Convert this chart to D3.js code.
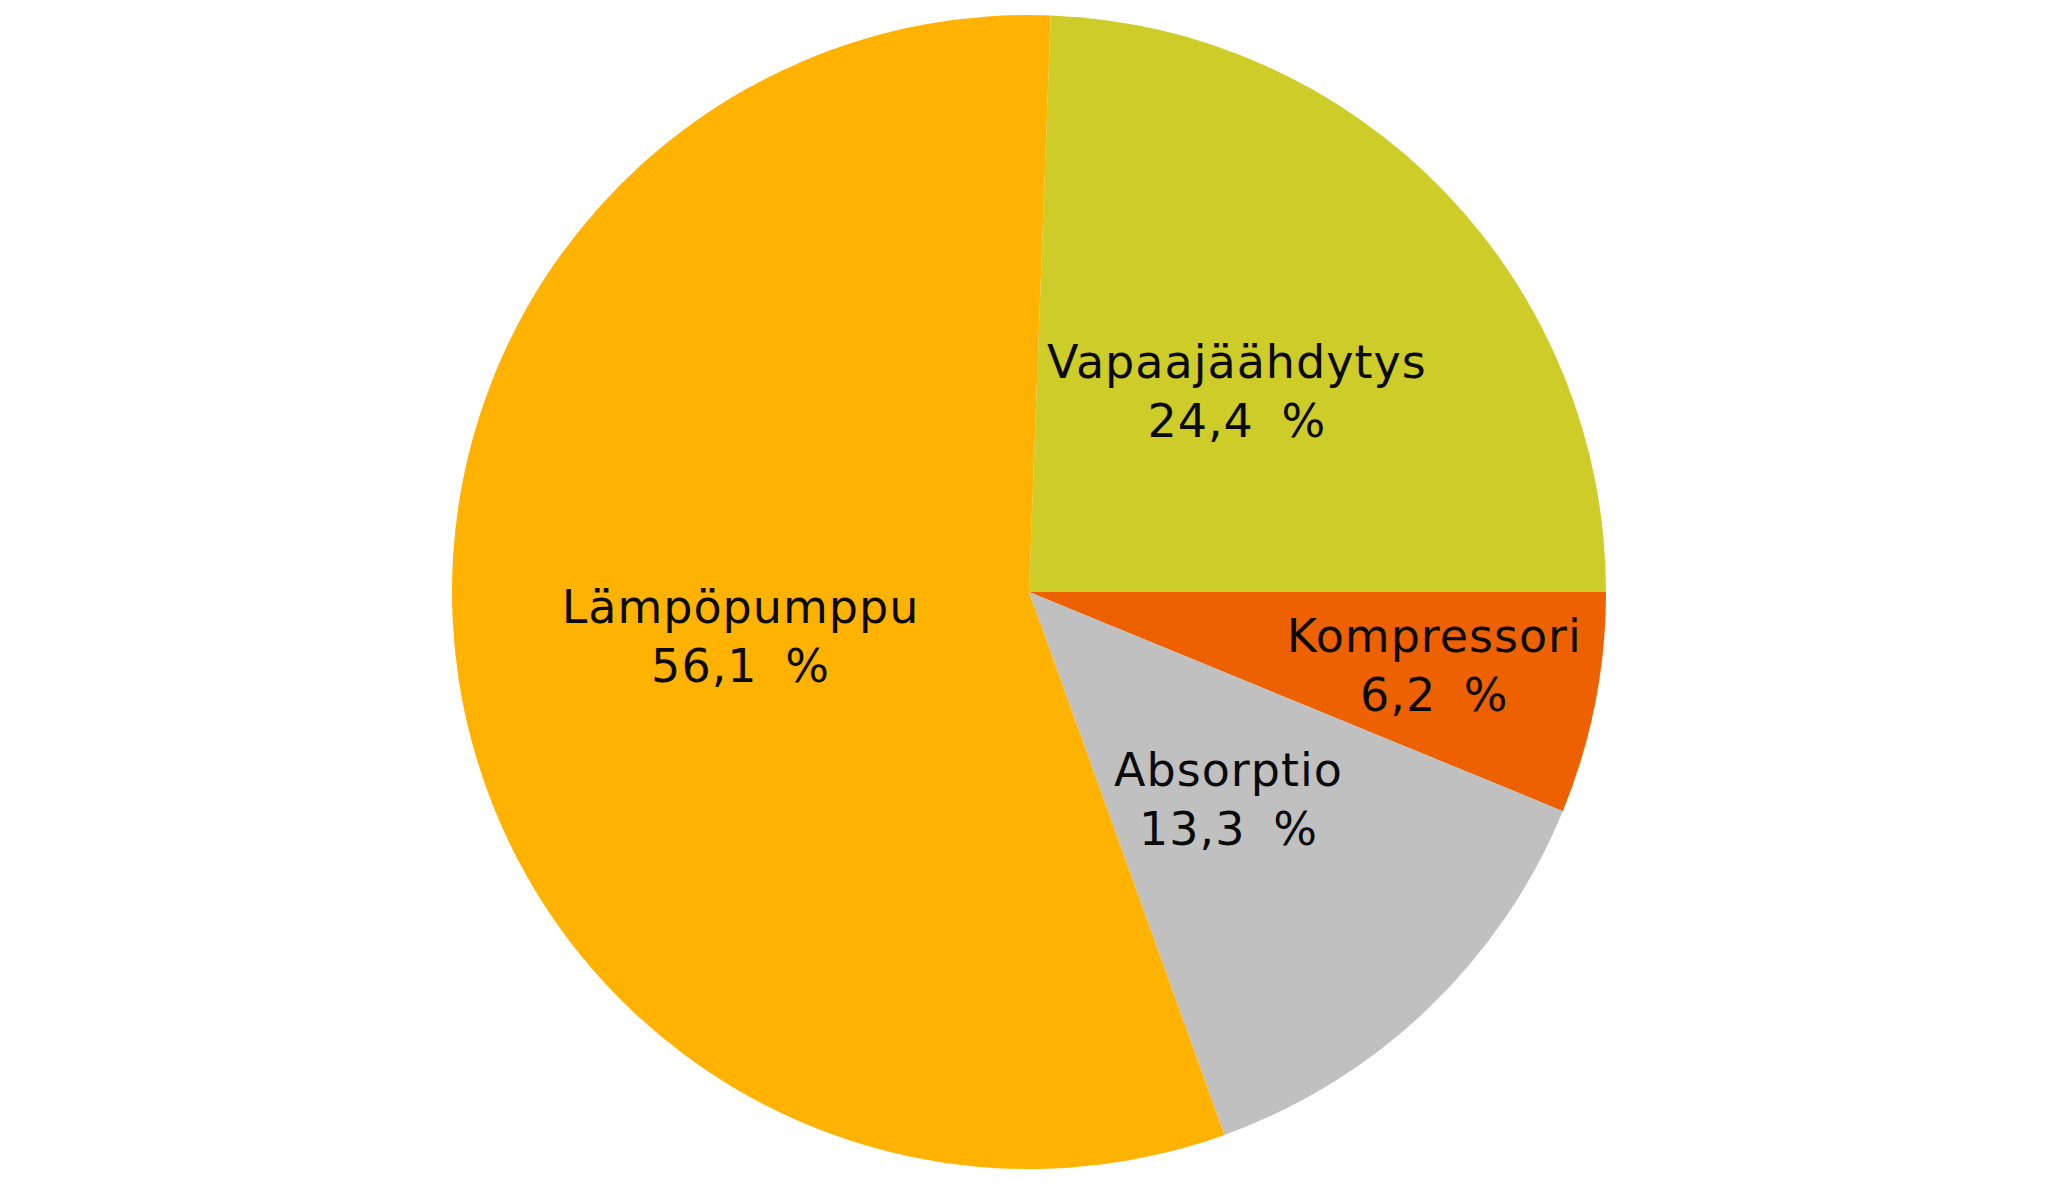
<!DOCTYPE html>
<html><head><meta charset="utf-8">
<script src="https://cdn.jsdelivr.net/npm/d3@7"></script>
<style>html,body{margin:0;padding:0;background:#fff;}svg{display:block;}</style>
</head><body>
<svg id="chart" width="2048" height="1195"></svg>
<script>
const categories = ["Vapaajäähdytys", "Kompressori", "Absorptio", "Lämpöpumppu"];
const values = [24.4, 6.2, 13.3, 56.1];
const valueLabels = ["24,4 %", "6,2 %", "13,3 %", "56,1 %"];
const colors = ["#CDCC28", "#EE6100", "#C0C0C0", "#FFB300"];

const W = 2048, H = 1195;
const cx = 1029, cy = 592, R = 577;
const labelK = {"Vapaajäähdytys": 0.5, "Kompressori": 0.716, "Absorptio": 0.5, "Lämpöpumppu": 0.506};
const labelDy = {"Vapaajäähdytys": 0, "Kompressori": -6, "Absorptio": 0, "Lämpöpumppu": 0};

const total = d3.sum(values);
// Kompressori starts at the horizontal (90°)
const start = Math.PI / 2 - (values[0] / total) * 2 * Math.PI;
const pie = d3.pie().sort(null).value(d => d.v).startAngle(start).endAngle(start + 2 * Math.PI);
const data = categories.map((c, i) => ({c, v: values[i], lab: valueLabels[i], col: colors[i]}));
const arcs = pie(data);
const arc = d3.arc().innerRadius(0).outerRadius(R);

const svg = d3.select("#chart");
const g = svg.append("g").attr("transform", `translate(${cx},${cy})`);
g.selectAll("path").data(arcs).join("path")
  .attr("d", arc).attr("fill", d => d.data.col);

const lines = g.selectAll("text").data(arcs).join("text")
  .attr("font-family", "DejaVu Sans, Verdana, sans-serif")
  .attr("font-size", 46)
  .attr("letter-spacing", 1)
  .attr("word-spacing", 12)
  .attr("fill", "#0a0a0a")
  .attr("text-anchor", "middle")
  .attr("transform", d => {
    const k = labelK[d.data.c];
    const a = d3.arc().innerRadius(R * k).outerRadius(R * k);
    const [x, y] = a.centroid(d);
    return `translate(${x},${y + labelDy[d.data.c]})`;
  });
lines.append("tspan").attr("x", 0).attr("y", -14).text(d => d.data.c);
lines.append("tspan").attr("x", 0).attr("y", 45).text(d => d.data.lab);
</script>
</body></html>
